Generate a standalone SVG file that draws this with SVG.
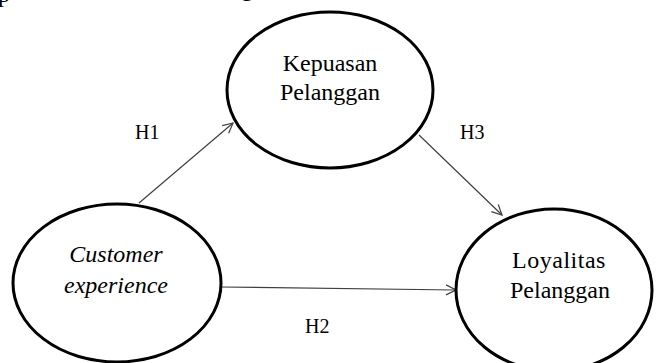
<svg xmlns="http://www.w3.org/2000/svg" width="656" height="363" viewBox="0 0 656 363">
<style>
.node{fill:#fff;stroke:#000;stroke-width:3}
.lbl{font-family:"Liberation Serif","Times New Roman",serif;font-size:24px;fill:#000;text-anchor:middle}
.it{font-style:italic}
.h{font-family:"Liberation Serif","Times New Roman",serif;font-size:20px;fill:#000}
.edge{stroke:#404040;stroke-width:1.2;fill:none;marker-end:url(#arr)}
</style>
<defs>
<marker id="arr" viewBox="0 0 12 12" refX="11" refY="6" markerWidth="12" markerHeight="12" markerUnits="userSpaceOnUse" orient="auto">
<path d="M1,1 L11,6 L1,11" fill="none" stroke="#404040" stroke-width="1.2"/>
</marker>
</defs>
<rect width="656" height="363" fill="#fff"/>
<g id="caption-fragment">
<text class="h" x="-2" y="2" style="font-size:24px">p</text>
<text class="h" x="241" y="-4" style="font-size:24px">g</text>
</g>
<g id="connectors">
<line class="edge" x1="139" y1="203" x2="233" y2="123"/>
<line class="edge" x1="419" y1="135" x2="502" y2="215"/>
<line class="edge" x1="220" y1="287" x2="456" y2="290"/>
</g>
<g id="edge-labels">
<text class="h" x="135" y="139">H1</text>
<text class="h" x="460" y="139">H3</text>
<text class="h" x="305" y="333">H2</text>
</g>
<g id="node-customer">
<ellipse class="node" cx="117" cy="283" rx="104" ry="79"/>
<text class="lbl it" x="116" y="262">Customer</text>
<text class="lbl it" x="116" y="293">experience</text>
</g>
<g id="node-kepuasan">
<ellipse class="node" cx="330" cy="90" rx="103" ry="78"/>
<text class="lbl" x="330" y="71">Kepuasan</text>
<text class="lbl" x="330" y="100">Pelanggan</text>
</g>
<g id="node-loyalitas">
<ellipse class="node" cx="554" cy="290" rx="98" ry="81"/>
<text class="lbl" x="559" y="268" style="letter-spacing:0.5px">Loyalitas</text>
<text class="lbl" x="560" y="298">Pelanggan</text>
</g>
</svg>
